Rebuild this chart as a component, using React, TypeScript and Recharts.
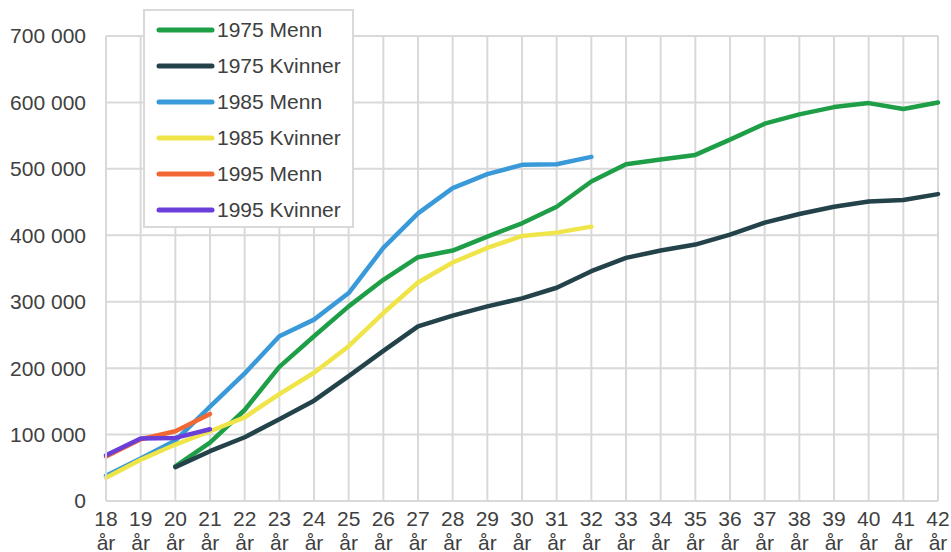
import { LineChart, Line, XAxis, YAxis, CartesianGrid, Legend } from 'recharts';

const ages = ['18', '19', '20', '21', '22', '23', '24', '25', '26', '27', '28', '29', '30', '31', '32', '33', '34', '35', '36', '37', '38', '39', '40', '41', '42'];

const menn1975 = [null, null, 52000, 88000, 137000, 202000, 248000, 293000, 333000, 367000, 377000, 398000, 418000, 443000, 481000, 507000, 514000, 521000, 544000, 568000, 582000, 593000, 599000, 590000, 600000];
const kvinner1975 = [null, null, 51000, 75000, 96000, 123000, 151000, 188000, 226000, 263000, 279000, 293000, 305000, 321000, 346000, 366000, 377000, 386000, 401000, 419000, 432000, 443000, 451000, 453000, 462000];
const menn1985 = [38000, 64000, 91000, 142000, 192000, 248000, 273000, 313000, 381000, 433000, 471000, 492000, 506000, 507000, 518000];
const kvinner1985 = [35000, 62000, 85000, 105000, 126000, 161000, 193000, 233000, 283000, 329000, 359000, 381000, 399000, 404000, 413000];
const menn1995 = [67000, 93000, 105000, 131000];
const kvinner1995 = [69000, 94000, 95000, 108000];

const yTicks = [0, 100000, 200000, 300000, 400000, 500000, 600000, 700000];

const series = [
  { key: 'm1975', name: '1975 Menn', values: menn1975, color: '#1f9e48' },
  { key: 'k1975', name: '1975 Kvinner', values: kvinner1975, color: '#23424a' },
  { key: 'm1985', name: '1985 Menn', values: menn1985, color: '#3a9ad9' },
  { key: 'k1985', name: '1985 Kvinner', values: kvinner1985, color: '#efe448' },
  { key: 'm1995', name: '1995 Menn', values: menn1995, color: '#f26835' },
  { key: 'k1995', name: '1995 Kvinner', values: kvinner1995, color: '#6a3ed8' },
];

const data = ages.map((age, i) => {
  const row: Record<string, string | number | null> = { age };
  series.forEach((s) => {
    row[s.key] = s.values[i] ?? null;
  });
  return row;
});

const textColor = '#404040';
const font = '"Liberation Sans", Arial, sans-serif';

function formatThousands(v: number) {
  return v.toLocaleString('en-US').replace(/,/g, ' ');
}

function AgeTick({ x, y, payload }: any) {
  return (
    <text x={x} y={y} textAnchor="middle" fill={textColor} fontSize={21} fontFamily={font}>
      <tspan x={x} dy={17}>{payload.value}</tspan>
      <tspan x={x} dy={24}>år</tspan>
    </text>
  );
}

function LegendBox() {
  return (
    <div
      style={{
        width: 207,
        height: 214,
        background: '#fff',
        border: '2px solid #d9d9d9',
        fontFamily: font,
        fontSize: 21,
        color: textColor,
        paddingTop: 1,
        boxSizing: 'content-box',
      }}
    >
      {series.map((s) => (
        <div key={s.key} style={{ display: 'flex', alignItems: 'center', height: 36 }}>
          <svg width={72} height={10} style={{ flexShrink: 0 }}>
            <line x1={14} y1={5} x2={67} y2={5} stroke={s.color} strokeWidth={5} strokeLinecap="round" />
          </svg>
          <span style={{ whiteSpace: 'nowrap' }}>{s.name}</span>
        </div>
      ))}
    </div>
  );
}

export default function App() {
  return (
    <div style={{ position: 'absolute', left: 0, top: 0, background: '#fff' }}>
      <LineChart width={951} height={552} data={data} margin={{ top: 36, right: 13, left: 0, bottom: 0 }}>
        <CartesianGrid stroke="#d9d9d9" strokeWidth={2} />
        <XAxis
          dataKey="age"
          interval={0}
          height={51}
          tick={<AgeTick />}
          tickLine={false}
          axisLine={{ stroke: '#d9d9d9', strokeWidth: 2 }}
        />
        <YAxis
          width={106}
          domain={[0, 700000]}
          ticks={yTicks}
          tickFormatter={formatThousands}
          tickLine={false}
          tickMargin={14}
          axisLine={{ stroke: '#d9d9d9', strokeWidth: 2 }}
          tick={{ fill: textColor, fontSize: 21, fontFamily: font }}
        />
        <Legend
          content={<LegendBox />}
          layout="vertical"
          verticalAlign="middle"
          align="center"
          wrapperStyle={{ left: 143, top: 9, width: 211 }}
        />
        {series.map((s) => (
          <Line
            key={s.key}
            dataKey={s.key}
            name={s.name}
            stroke={s.color}
            strokeWidth={4.5}
            dot={false}
            activeDot={false}
            strokeLinejoin="round"
            strokeLinecap="round"
            isAnimationActive={false}
          />
        ))}
      </LineChart>
    </div>
  );
}
